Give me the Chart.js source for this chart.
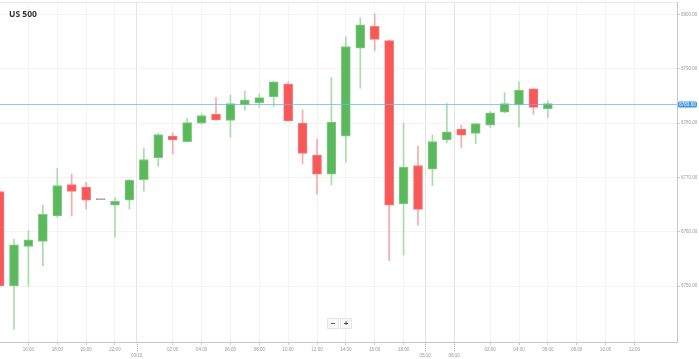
<!DOCTYPE html>
<html>
<head>
<meta charset="utf-8">
<script src="https://cdn.jsdelivr.net/npm/chart.js@4"></script>
<style>
    html, body { margin: 0; padding: 0; background: #fff; }
    #wrap { position: relative; width: 699px; height: 359px; }
    #title {
        position: absolute; left: 9px; top: 8px;
        font: bold 8.5px "Open Sans", Arial, sans-serif; color: #333;
    }
    #zoom { position: absolute; left: 327px; top: 318px; display: flex; }
    #zoom span {
        width: 10px; height: 9px; line-height: 9px; text-align: center;
        font: bold 8px Arial, sans-serif; color: #444;
        background: #f7f7f7; border: 1px solid #e4e4e4; margin-right: 1px;
    }
</style>
</head>
<body>
<div id="wrap">
    <canvas id="myChart" width="699" height="359"></canvas>
    <div id="title">US 500</div>
    <div id="zoom"><span>−</span><span>+</span></div>
</div>
<script>
// hourly candles, index 0 = 14:00
var opens = [6767.4, 6750.0, 6757.3, 6758.2, 6762.9, 6768.7, 6768.2, 6765.9, 6764.9, 6765.8,
    6769.6, 6773.6, 6777.6, 6776.6, 6780.0, 6781.6, 6780.5, 6783.4, 6783.7, 6784.8,
    6787.2, 6780.0, 6774.1, 6770.6, 6777.6, 6793.8, 6797.8, 6795.2, 6765.1, 6772.2,
    6771.5, 6776.9, 6778.9, 6778.1, 6779.6, 6782.0, 6783.4, 6786.3, 6782.6];
var highs = [6767.7, 6758.6, 6760.2, 6764.9, 6771.7, 6770.6, 6769.1, 6765.9, 6766.3, 6769.6,
    6775.4, 6778.2, 6778.2, 6780.9, 6781.7, 6784.7, 6785.2, 6785.9, 6785.4, 6787.7,
    6787.6, 6782.4, 6777.0, 6788.4, 6795.9, 6799.4, 6800.1, 6795.3, 6780.0, 6775.7,
    6777.8, 6783.6, 6779.6, 6780.0, 6782.1, 6785.6, 6787.6, 6786.4, 6784.1];
var lows = [6749.9, 6742.0, 6750.0, 6753.7, 6762.7, 6762.9, 6764.2, 6765.9, 6759.0, 6764.2,
    6767.5, 6772.0, 6774.3, 6776.5, 6779.8, 6780.5, 6777.4, 6782.4, 6782.9, 6783.0,
    6780.3, 6772.5, 6766.9, 6768.6, 6772.8, 6786.4, 6793.3, 6754.7, 6755.7, 6761.2,
    6768.5, 6776.4, 6775.5, 6776.2, 6779.2, 6781.9, 6779.3, 6781.6, 6781.0];
var closes = [6750.0, 6757.6, 6758.5, 6763.2, 6768.5, 6767.4, 6765.8, 6765.9, 6765.6, 6769.5,
    6773.3, 6777.9, 6776.9, 6780.1, 6781.4, 6780.6, 6783.6, 6784.3, 6784.7, 6787.6,
    6780.4, 6774.4, 6770.6, 6780.2, 6794.1, 6798.1, 6795.4, 6764.9, 6771.9, 6764.1,
    6776.6, 6778.4, 6777.8, 6779.9, 6781.9, 6783.6, 6786.1, 6782.9, 6783.6];

var hourTicks = [2, 4, 6, 8, 12, 14, 16, 18, 20, 22, 24, 26, 28, 34, 36, 38, 40, 42, 44];
var hourLabels = ['16:00', '18:00', '20:00', '22:00', '02:00', '04:00', '06:00', '08:00', '10:00',
    '12:00', '14:00', '16:00', '18:00', '02:00', '04:00', '06:00', '08:00', '10:00', '12:00'];
var dayTicks = [9.5, 29.5, 31.5];
var dayLabels = ['03/10', '05/10', '06/10'];
var priceTicks = [6750, 6760, 6770, 6780, 6790, 6800];

var GREEN = 'rgb(92, 184, 92)';
var RED = 'rgb(247, 88, 88)';

function candleColor(i, up, down, flat) {
    if (closes[i] > opens[i]) return up;
    if (closes[i] < opens[i]) return down;
    return flat;
}

var extras = {
    id: 'extras',
    afterDraw: function (chart) {
        var ctx = chart.ctx;
        var area = chart.chartArea;
        var xs = chart.scales.x;
        var ys = chart.scales.y;
        ctx.save();

        // top border
        ctx.strokeStyle = '#e8e8e8';
        ctx.lineWidth = 1;
        ctx.beginPath();
        ctx.moveTo(area.left, area.top + 0.5);
        ctx.lineTo(area.right, area.top + 0.5);
        ctx.stroke();

        // dotted day ticks under the axis
        ctx.strokeStyle = '#aaa';
        ctx.setLineDash([1, 1]);
        dayTicks.forEach(function (v) {
            var x = Math.round(xs.getPixelForValue(v)) + 0.5;
            ctx.beginPath();
            ctx.moveTo(x, area.bottom);
            ctx.lineTo(x, area.bottom + 10);
            ctx.stroke();
        });
        ctx.setLineDash([]);

        // last price line + label
        var last = closes[closes.length - 1];
        var y = Math.round(ys.getPixelForValue(last)) + 0.5;
        ctx.strokeStyle = 'rgba(110, 180, 235, 0.75)';
        ctx.beginPath();
        ctx.moveTo(area.left, y);
        ctx.lineTo(area.right, y);
        ctx.stroke();

        ctx.fillStyle = 'rgb(58, 152, 228)';
        ctx.beginPath();
        ctx.roundRect(area.right + 1, y - 3, 19, 6, 1.5);
        ctx.fill();
        ctx.fillStyle = '#fff';
        ctx.font = '4.5px Arial, sans-serif';
        ctx.textAlign = 'center';
        ctx.textBaseline = 'middle';
        ctx.fillText(last.toFixed(2), area.right + 10.5, y + 0.3);
        ctx.restore();
    }
};

function createChart() {
    var ctx = document.getElementById('myChart');

    var bodies = opens.map(function (o, i) {
        return { x: i, y: [Math.min(o, closes[i]), Math.max(o, closes[i])] };
    });
    var wicks = lows.map(function (l, i) {
        return { x: i, y: [l, highs[i]] };
    });

    var data = {
        datasets: [{
            label: 'body',
            data: bodies,
            order: 0,
            grouped: false,
            barThickness: 9,
            minBarLength: 1,
            borderWidth: 1,
            borderSkipped: false,
            backgroundColor: function (c) {
                return candleColor(c.dataIndex, GREEN, RED, '#9a9a9a');
            },
            borderColor: function (c) {
                return candleColor(c.dataIndex, 'rgb(130, 205, 130)', 'rgb(250, 120, 120)', '#9a9a9a');
            }
        }, {
            label: 'wick',
            data: wicks,
            order: 1,
            grouped: false,
            barThickness: 1,
            borderWidth: 0,
            backgroundColor: function (c) {
                return candleColor(c.dataIndex, 'rgb(170, 220, 170)', 'rgb(250, 170, 170)', '#bbb');
            }
        }]
    };

    var axisFont = { family: 'Arial, sans-serif', size: 4.5, lineHeight: 1.5 };

    var option = {
        responsive: false,
        animation: false,
        layout: { padding: { top: 2, left: 0, right: 0, bottom: 0 } },
        plugins: {
            legend: { display: false },
            tooltip: { enabled: false }
        },
        scales: {
            x: {
                type: 'linear',
                offset: false,
                min: 0.03,
                max: 46.95,
                afterBuildTicks: function (axis) {
                    axis.ticks = hourTicks.concat(dayTicks)
                        .sort(function (a, b) { return a - b; })
                        .map(function (v) { return { value: v }; });
                },
                afterFit: function (scale) {
                    scale.height = 17;
                    scale.paddingLeft = 0;
                    scale.paddingRight = 0;
                },
                ticks: {
                    autoSkip: false,
                    maxRotation: 0,
                    padding: 1,
                    color: '#999',
                    font: axisFont,
                    callback: function (value) {
                        var d = dayTicks.indexOf(value);
                        if (d >= 0) return ['', dayLabels[d]];
                        var h = hourTicks.indexOf(value);
                        return h >= 0 ? hourLabels[h] : '';
                    }
                },
                grid: {
                    offset: false,
                    color: function (c) {
                        if (c.tick && dayTicks.indexOf(c.tick.value) >= 0) return '#e3e3e3';
                        return '#f3f3f3';
                    },
                    tickColor: function (c) {
                        if (c.tick && dayTicks.indexOf(c.tick.value) >= 0) return 'rgba(0,0,0,0)';
                        return '#ccc';
                    },
                    tickLength: 3
                },
                border: { color: '#c8c8c8' }
            },
            y: {
                position: 'right',
                min: 6739.69,
                max: 6802.3,
                afterBuildTicks: function (axis) {
                    axis.ticks = priceTicks.map(function (v) { return { value: v }; });
                },
                afterFit: function (scale) {
                    scale.width = 22;
                    scale.paddingTop = 0;
                    scale.paddingBottom = 0;
                },
                ticks: {
                    padding: 1,
                    color: '#999',
                    font: axisFont,
                    callback: function (value) { return value.toFixed(2); }
                },
                grid: { color: '#f3f3f3', tickColor: '#ccc', tickLength: 3 },
                border: { color: '#c8c8c8' }
            }
        }
    };

    var myChart = new Chart(ctx, {
        type: 'bar',
        data: data,
        options: option,
        plugins: [extras]
    });
}

createChart();
</script>
</body>
</html>
